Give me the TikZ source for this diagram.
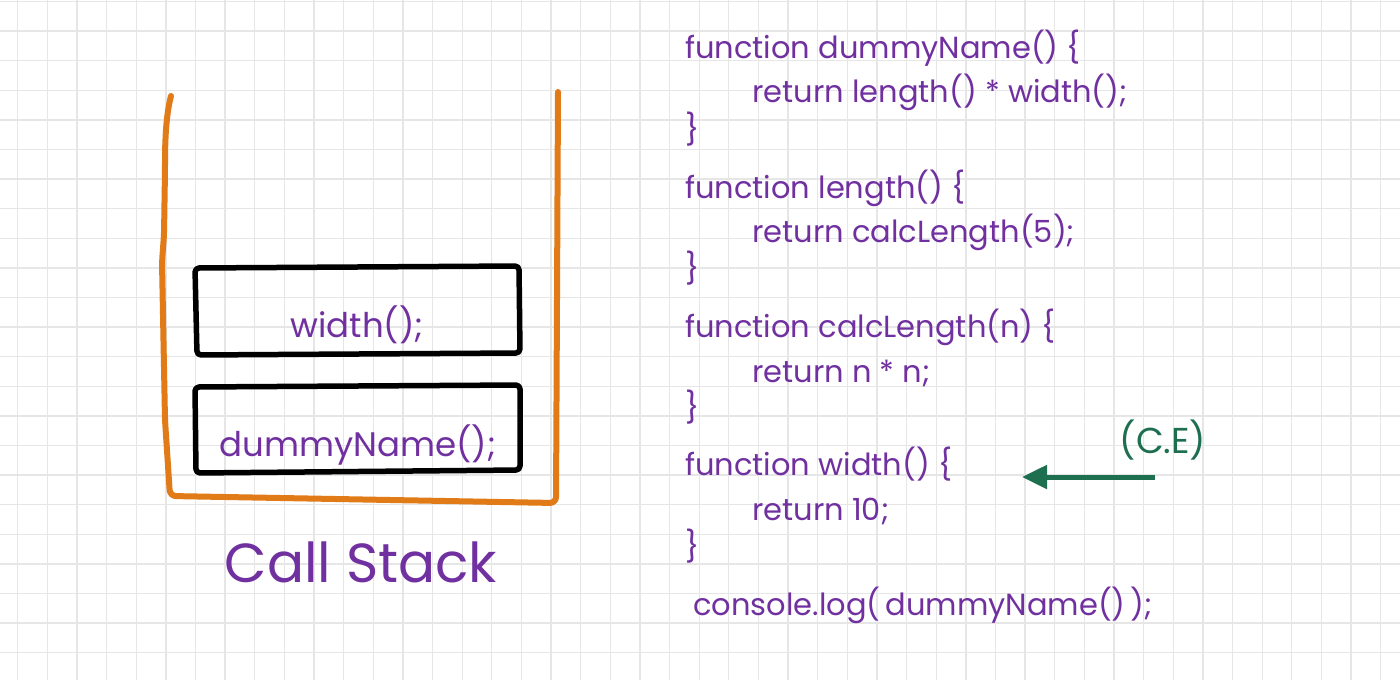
\documentclass[tikz,border=0pt]{standalone}
\usepackage{fontspec}
\setmainfont{Poppins}
\usetikzlibrary{arrows.meta}
\definecolor{gridc}{RGB}{230,230,230}
\definecolor{purp}{RGB}{112,48,160}
\definecolor{orng}{RGB}{224,123,23}
\definecolor{grn}{RGB}{30,110,80}
\tikzset{
  container/.style={draw=orng,line width=6pt,line cap=round,line join=round,rounded corners=6pt},
  framebox/.style={draw=black,line width=5.5pt,line cap=round,line join=round,rounded corners=4pt},
  code/.style={anchor=base west,inner sep=0pt,text=purp,font=\fontsize{30.5}{32}\selectfont},
  boxtext/.style={anchor=base,inner sep=0pt,text=purp,font=\fontsize{34}{36}\selectfont},
  title/.style={anchor=base,inner sep=0pt,text=purp,font=\fontsize{55}{58}\selectfont},
  celabel/.style={anchor=center,inner sep=0pt,text=grn,font=\fontsize{36}{38}\selectfont},
  cearrow/.style={draw=grn,line width=5pt,-{Triangle[length=25pt,width=23pt]}}
}
\begin{document}
\begin{tikzpicture}[x=1pt,y=-1pt]
\useasboundingbox (0,0) rectangle (1400,680);
\fill[white] (0,0) rectangle (1400,680);
% grid
\foreach \i in {0,...,46} {
  \draw[gridc,line width=1.3pt] ({17.7+29.63*\i},0) -- ({17.7+29.63*\i},680);
}
\foreach \j in {0,...,23} {
  \draw[gridc,line width=1.3pt] (0,{1.5+29.6*\j}) -- (1400,{1.5+29.6*\j});
}
% stack container
\draw[container] (171,96) .. controls (166,115) and (165,140) .. (165,170) -- (164,235) -- (162,262) -- (165,420) -- (170,496) -- (556,503) -- (558,92);
% frames
\draw[framebox] (195,268) -- (519,266) -- (520,353) -- (197,355) -- cycle;
\draw[framebox] (195,387) -- (520,385) -- (520,470) -- (196,473) -- cycle;
\node[boxtext] (w) at (357,337) {width();};
\node[boxtext] (d) at (358,456) {dummyName();};
\node[title] (cs) at (361,582) {Call Stack};
% code
\node[code] (l1) at (685,58) {function dummyName() \{};
\node[code] (l2) at (752,102) {return length() * width();};
\node[code] (l3) at (685,140) {\}};
\node[code] (l4) at (685,198) {function length() \{};
\node[code] (l5) at (752,242) {return calcLength(5);};
\node[code] (l6) at (685,279) {\}};
\node[code] (l7) at (685,337) {function calcLength(n) \{};
\node[code] (l8) at (752,382) {return n * n;};
\node[code] (l9) at (685,418) {\}};
\node[code] (l10) at (685,475) {function width() \{};
\node[code] (l11) at (752,520) {return 10;};
\node[code] (l12) at (685,557) {\}};
\node[code] (l13) at (693,615) {console.log(\,dummyName()\,);};
% current execution arrow
\node[celabel] (ce) at (1163,440) {(C.E)};
\coordinate (ceS) at (1155,477);
\coordinate (ceE) at (1022,477);
\draw[cearrow] (ceS) -- (ceE);
\end{tikzpicture}
\end{document}
